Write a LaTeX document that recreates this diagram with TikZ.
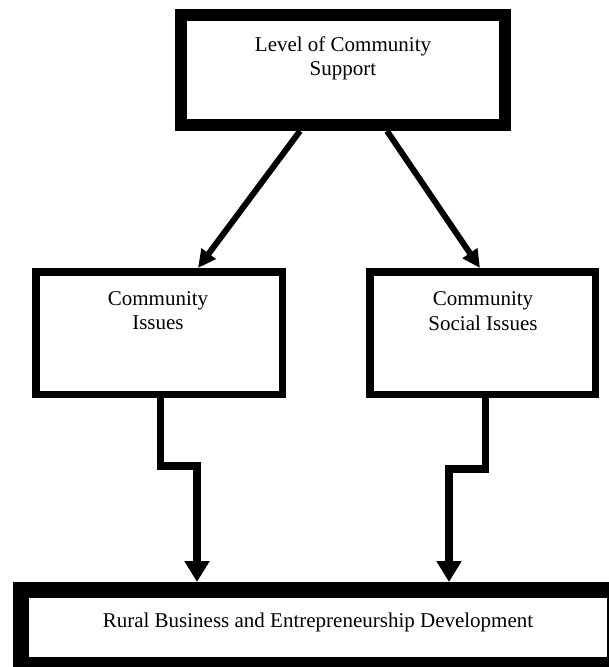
\documentclass[tikz,border=0pt]{standalone}
\usepackage{fontspec}
\setmainfont{Liberation Serif}
\usetikzlibrary{arrows.meta}
\begin{document}
\begin{tikzpicture}[x=1pt,y=-1pt,
  box/.style={draw=black,fill=white,inner sep=0pt,line join=miter},
  txt/.style={inner sep=0pt,align=center,anchor=north,font=\fontsize{21}{24.5}\selectfont},
  slant/.style={line width=6pt,-{Triangle[length=18pt,width=17pt]}},
  zig/.style={line width=7.5pt,line join=miter,-{Triangle[length=21pt,width=24pt]}}]
\useasboundingbox (0,0) rectangle (609,667);
\clip (0,0) rectangle (609,667);
\fill[white] (0,0) rectangle (609,667);
% boxes
\node[box,line width=12pt,minimum width=324pt,minimum height=110pt] (top) at (343,70) {};
\node[box,line width=7.5pt,minimum width=246.5pt,minimum height=122.5pt] (lm) at (159,333) {};
\node[box,line width=7.5pt,minimum width=225.5pt,minimum height=122.5pt] (rm) at (482.5,333) {};
\node[box,line width=16pt,minimum width=594pt,minimum height=75pt] (bm) at (318,627.5) {};
% texts
\node[txt] (ttop) at (343,36.5) {Level of Community\\Support};
\node[txt] (tlm) at (158,291) {Community\\Issues};
\node[txt] (trm) at (483,291.5) {Community\\Social Issues};
\node[txt] (tbm) at (318,612.5) {Rural Business and Entrepreneurship Development};
% connectors
\draw[slant] ([xshift=-43pt]top.south) -- ([xshift=39pt]lm.north);
\draw[slant] ([xshift=44pt]top.south) -- ([xshift=-2.5pt]rm.north);
\draw[zig] ([xshift=1.5pt]lm.south) -- ++(0,68) -| ([xshift=-121pt]bm.north);
\draw[zig] ([xshift=3pt]rm.south) -- ++(0,71) -| ([xshift=131pt]bm.north);
\end{tikzpicture}
\end{document}
